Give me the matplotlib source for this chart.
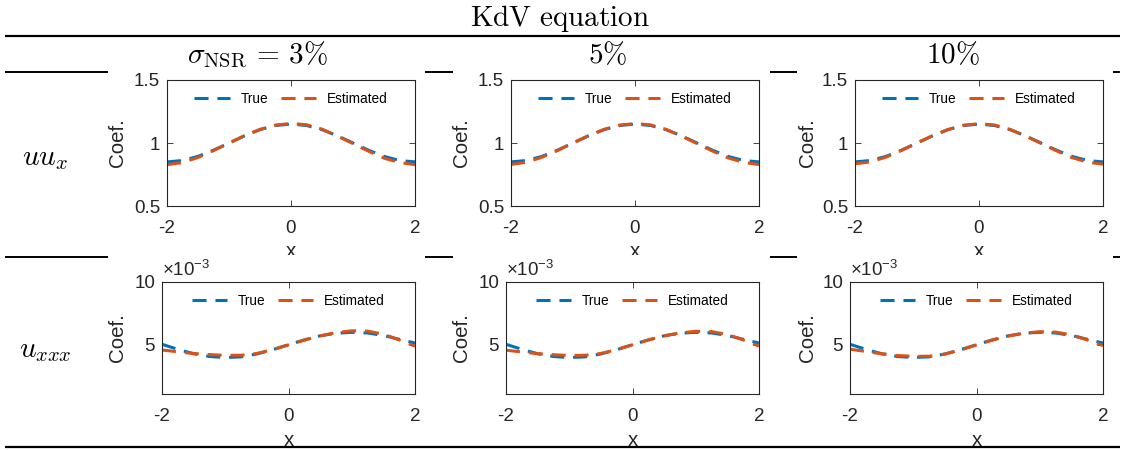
import matplotlib
matplotlib.use("Agg")
import matplotlib.pyplot as plt
from matplotlib.lines import Line2D
from matplotlib.transforms import Bbox

plt.rcParams["font.family"] = "Liberation Sans"
plt.rcParams["mathtext.fontset"] = "custom"
plt.rcParams["mathtext.rm"] = "Liberation Sans"
plt.rcParams["mathtext.it"] = "Liberation Sans:italic"
plt.rcParams["axes.unicode_minus"] = False

# ---- data ----
x = [-2.0, -1.75, -1.5, -1.25, -1.0, -0.75, -0.5, -0.25, 0.0,
     0.25, 0.5, 0.75, 1.0, 1.25, 1.5, 1.75, 2.0]

noise_levels = ["3%", "5%", "10%"]
terms = ["uu_x", "u_{xxx}"]

# row 1: coefficient of u*u_x
uux_true = [0.85, 0.861, 0.894, 0.943, 1.0, 1.057, 1.106, 1.139, 1.15,
            1.139, 1.106, 1.057, 1.0, 0.943, 0.894, 0.861, 0.85]
uux_est_3 = [0.828, 0.845, 0.885, 0.94, 0.998, 1.058, 1.108, 1.142, 1.155,
             1.145, 1.11, 1.055, 0.995, 0.935, 0.88, 0.845, 0.828]
uux_est_5 = [0.83, 0.847, 0.887, 0.94, 1.0, 1.058, 1.108, 1.142, 1.154,
             1.144, 1.108, 1.055, 0.996, 0.936, 0.882, 0.846, 0.829]
uux_est_10 = [0.835, 0.85, 0.888, 0.941, 1.0, 1.057, 1.107, 1.141, 1.153,
              1.143, 1.108, 1.056, 0.997, 0.938, 0.884, 0.848, 0.832]

# row 2: coefficient of u_xxx (units of 1e-3)
uxxx_true = [5.05, 4.65, 4.3, 4.08, 4.0, 4.05, 4.28, 4.62, 5.02,
             5.4, 5.72, 5.93, 6.0, 5.95, 5.75, 5.45, 5.15]
uxxx_est_3 = [4.6, 4.45, 4.32, 4.23, 4.17, 4.18, 4.32, 4.62, 5.0,
              5.38, 5.72, 5.98, 6.12, 6.1, 5.85, 5.4, 4.9]
uxxx_est_5 = [4.58, 4.44, 4.31, 4.22, 4.16, 4.18, 4.32, 4.63, 5.01,
              5.39, 5.72, 5.96, 6.08, 6.06, 5.83, 5.4, 4.9]
uxxx_est_10 = [4.66, 4.48, 4.3, 4.16, 4.09, 4.1, 4.27, 4.6, 5.0,
               5.38, 5.7, 5.93, 6.05, 6.02, 5.8, 5.4, 4.95]

rows = [
    (uux_true, [uux_est_3, uux_est_5, uux_est_10]),
    (uxxx_true, [uxxx_est_3, uxxx_est_5, uxxx_est_10]),
]

# ---- layout in pixels ----
W, H = 1123, 450
BLUE = "#0072BD"
ORANGE = "#D95319"
AXC = "#262626"
DASH = (4.6, 2.9)

boxes = [
    [(167, 80, 415, 206), (511, 80, 759, 206), (855, 80, 1103, 206)],
    [(162, 282, 415, 394), (506, 282, 759, 394), (850, 282, 1103, 394)],
]
ylabel_x = [118, 462, 807]
xlabel_y = [251, 440]
ylims = [(0.5, 1.5), (1.1, 10)]
yticks = [[0.5, 1, 1.5], [5, 10]]
yticklabels = [["0.5", "1", "1.5"], ["5", "10"]]

fig = plt.figure(figsize=(W / 100, H / 100), dpi=100)
fig.patch.set_facecolor("white")


def add_px_axes(box):
    l, t, r, b = box
    return fig.add_axes([l / W, 1 - b / H, (r - l) / W, (b - t) / H])


def hline(y, x0, x1, lw):
    fig.add_artist(Line2D([x0 / W, x1 / W], [1 - y / H, 1 - y / H],
                          transform=fig.transFigure, color="black", lw=lw,
                          solid_capstyle="butt", zorder=10))


for r, (true_vals, est_list) in enumerate(rows):
    for c in range(3):
        box = boxes[r][c]
        ax = add_px_axes(box)
        ax.plot(x, true_vals, color=BLUE, lw=2.2, ls="--", dashes=DASH,
                label="True")
        ax.plot(x, est_list[c], color=ORANGE, lw=2.2, ls="--", dashes=DASH,
                label="Estimated")
        ax.set_xlim(-2, 2)
        ax.set_ylim(*ylims[r])
        ax.set_xticks([-2, 0, 2])
        ax.set_xticklabels(["-2", "0", "2"])
        ax.set_yticks(yticks[r])
        ax.set_yticklabels(yticklabels[r])
        ax.tick_params(direction="in", length=4, width=0.6, top=True,
                       right=True, colors=AXC, labelsize=13.5)
        ax.tick_params(axis="x", pad=10)
        ax.tick_params(axis="y", pad=5)
        for sp in ax.spines.values():
            sp.set_color(AXC)
            sp.set_linewidth(0.8)

        l, t, rr, b = box
        ax.set_ylabel("Coef.", fontsize=14.8, color=AXC)
        ax.yaxis.label.set_va("center")
        ax.yaxis.set_label_coords((ylabel_x[c] - l) / (rr - l), 0.5)
        ax.set_xlabel("x", fontsize=14.8, color=AXC)
        ax.xaxis.label.set_va("center")
        ax.xaxis.set_label_coords(0.5, -(xlabel_y[r] - b) / (b - t))
        if r == 0:
            ax.xaxis.label.set_clip_box(Bbox([[0, H - 255], [W, H]]))
            ax.xaxis.label.set_clip_on(True)
        else:
            ax.text(0.0, 1.02, r"$\times10^{-3}$", transform=ax.transAxes,
                    fontsize=13.5, color=AXC, ha="left", va="bottom")

        ax.legend(loc="upper center", ncol=2, frameon=False, fontsize=9.8,
                  handlelength=2.6, handletextpad=0.8, columnspacing=0.9,
                  borderaxespad=0.45)

# ---- table text and rules ----
serif = dict(math_fontfamily="cm", fontsize=21, color="black")
fig.text(560 / W, 1 - 18 / H, r"$\mathrm{KdV\ equation}$", ha="center",
         va="center", **serif)
header_x = [257, 608, 953]
headers = [r"$\sigma_{\mathrm{NSR}}\,=\,3\%$", r"$5\%$", r"$10\%$"]
for hx, txt in zip(header_x, headers):
    fig.text(hx / W, 1 - 55 / H, txt, ha="center", va="center", **serif)

row_y = [158, 350]
for ry, term in zip(row_y, terms):
    fig.text(45 / W, 1 - ry / H, "$" + term + "$", ha="center", va="center",
             **serif)

hline(36, 5, 1120, 1.6)
hline(447, 5, 1120, 1.6)
gaps = [(5, 108), (425, 453), (770, 797), (1113, 1120)]
for y in (72, 257):
    for x0, x1 in gaps:
        hline(y, x0, x1, 1.4)

fig.savefig("out.png", dpi=100, facecolor="white")
